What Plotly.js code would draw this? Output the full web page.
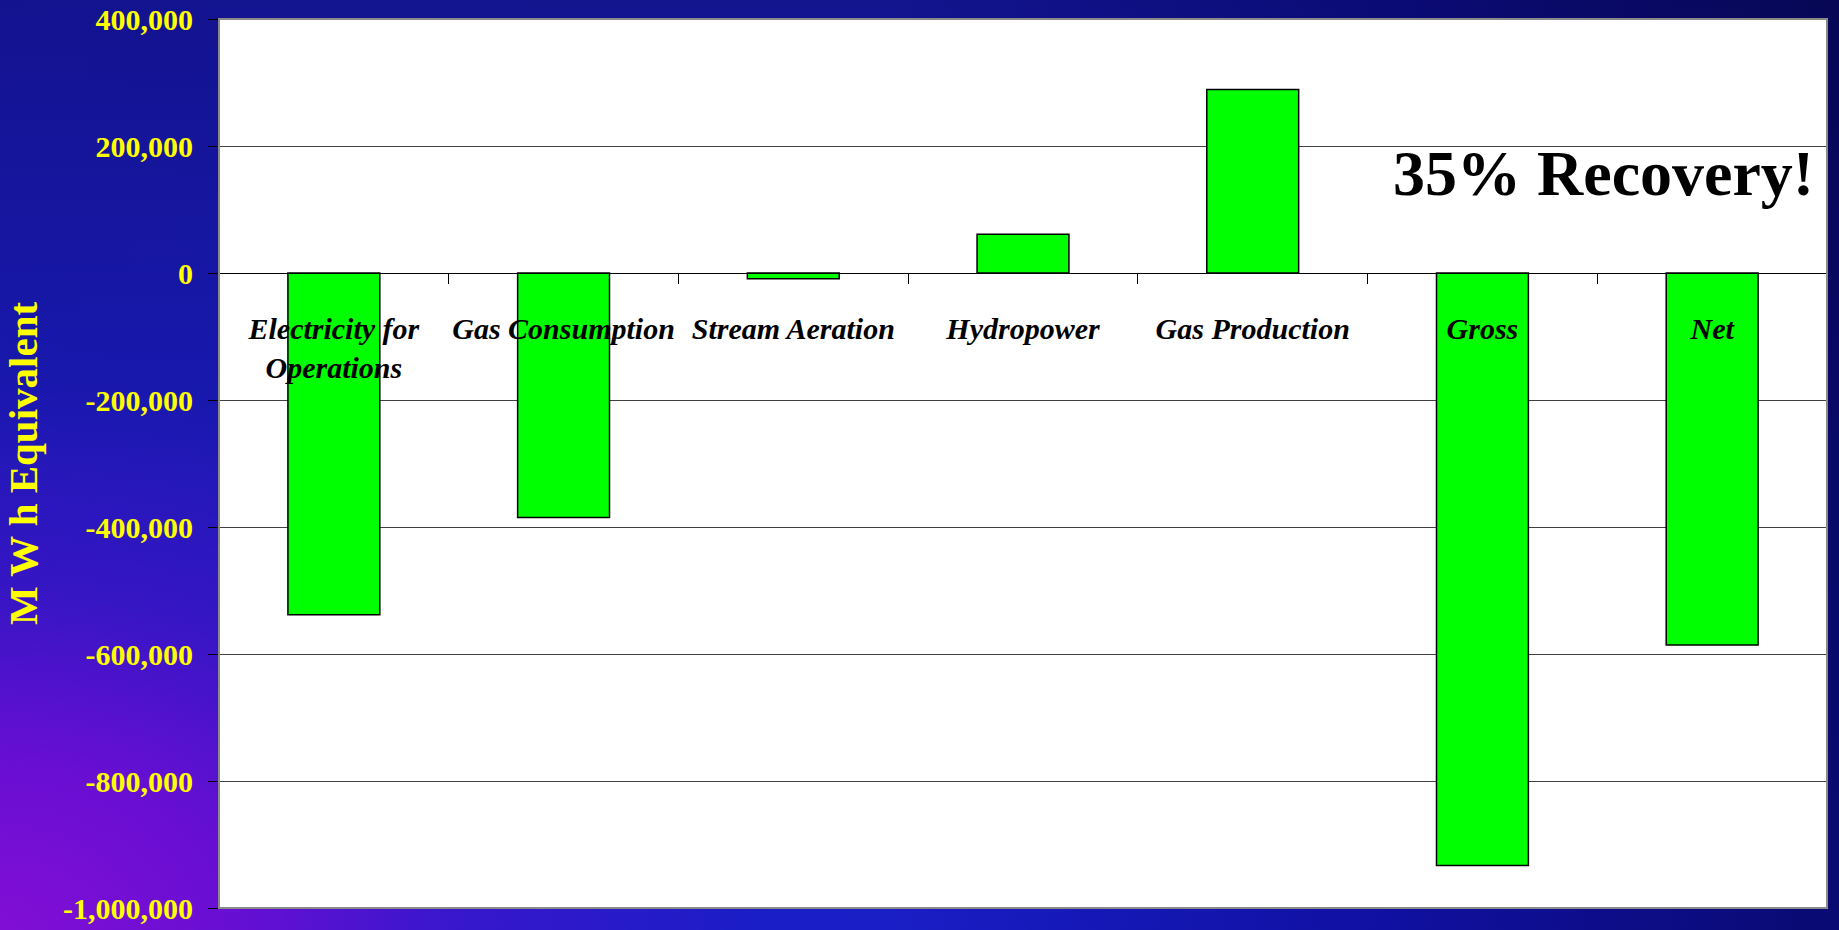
<!DOCTYPE html>
<html>
<head>
<meta charset="utf-8">
<script src="https://cdn.plot.ly/plotly-3.0.1.min.js"></script>
<style>
  html, body { margin: 0; padding: 0; }
  #chart {
    width: 1839px;
    height: 930px;
    background:
      radial-gradient(ellipse 760px 560px at 0% 100%, rgba(130,14,212,1) 0%, rgba(118,12,214,0.85) 30%, rgba(90,16,210,0.45) 60%, rgba(60,20,200,0) 100%),
      linear-gradient(to bottom, rgba(0,0,25,0.32) 0%, rgba(0,0,25,0.12) 50%, rgba(0,0,25,0) 100%),
      linear-gradient(to right, #1c1cc8 0%, #1a1ec6 48%, #1010a2 75%, #0a0a72 100%);
  }
</style>
</head>
<body>
<div id="chart"></div>
<script>
// Energy balance by process, in MWh equivalent
const categories = [
  'Electricity for<br>Operations',
  'Gas Consumption',
  'Stream Aeration',
  'Hydropower',
  'Gas Production',
  'Gross',
  'Net'
];
const values = [-538000, -385000, -9000, 61000, 289000, -933000, -586000];

const yTickValues = [400000, 200000, 0, -200000, -400000, -600000, -800000, -1000000];
const yTickLabels = ['400,000', '200,000', '0', '-200,000', '-400,000', '-600,000', '-800,000', '-1,000,000'];

const yTitle = 'M W h Equivalent';
const callout = '35% Recovery!';

const serif = '"Liberation Serif", "Times New Roman", Times, serif';

const trace = {
  type: 'bar',
  x: categories,
  y: values,
  marker: { color: '#00ff00', line: { color: '#000000', width: 1.5 } },
  hoverinfo: 'x+y'
};

const layout = {
  width: 1839,
  height: 930,
  margin: { l: 219, r: 12, t: 19, b: 22, pad: 0 },
  paper_bgcolor: 'rgba(0,0,0,0)',
  plot_bgcolor: '#ffffff',
  showlegend: false,
  bargap: 0.6,
  xaxis: {
    type: 'category',
    anchor: 'free',
    position: 1 / 1.4,
    showline: true,
    linecolor: '#000000',
    linewidth: 1,
    showgrid: false,
    zeroline: false,
    ticks: 'outside',
    tickson: 'boundaries',
    ticklen: 10,
    tickcolor: '#000000',
    tickwidth: 1,
    tickangle: 0,
    ticklabelstandoff: 29,
    tickfont: { family: serif, size: 30, color: '#000000', weight: 'bold', style: 'italic' },
    fixedrange: true
  },
  yaxis: {
    range: [-1000000, 400000],
    tickvals: yTickValues,
    ticktext: yTickLabels,
    showgrid: true,
    gridcolor: '#404040',
    gridwidth: 1,
    zeroline: false,
    showline: true,
    linecolor: '#404040',
    linewidth: 1,
    ticks: 'outside',
    ticklen: 10,
    tickcolor: '#000000',
    tickwidth: 1,
    ticklabelstandoff: 9,
    tickfont: { family: serif, size: 30, color: '#ffff00', weight: 'bold' },
    title: {
      text: yTitle,
      standoff: 12,
      font: { family: serif, size: 41, color: '#ffff00', weight: 'bold' }
    },
    fixedrange: true
  },
  shapes: [
    {
      type: 'rect', xref: 'paper', yref: 'paper', x0: 0, x1: 1, y0: 0, y1: 1,
      line: { color: '#8a8a8a', width: 2 }, fillcolor: 'rgba(0,0,0,0)', layer: 'above'
    }
  ],
  annotations: [
    {
      text: callout,
      xref: 'paper', yref: 'paper',
      x: 0.8607, y: 0.826,
      xanchor: 'center', yanchor: 'middle',
      showarrow: false,
      font: { family: serif, size: 64, color: '#000000', weight: 'bold' }
    }
  ]
};

Plotly.newPlot('chart', [trace], layout, { displayModeBar: false, staticPlot: true });
</script>
</body>
</html>
